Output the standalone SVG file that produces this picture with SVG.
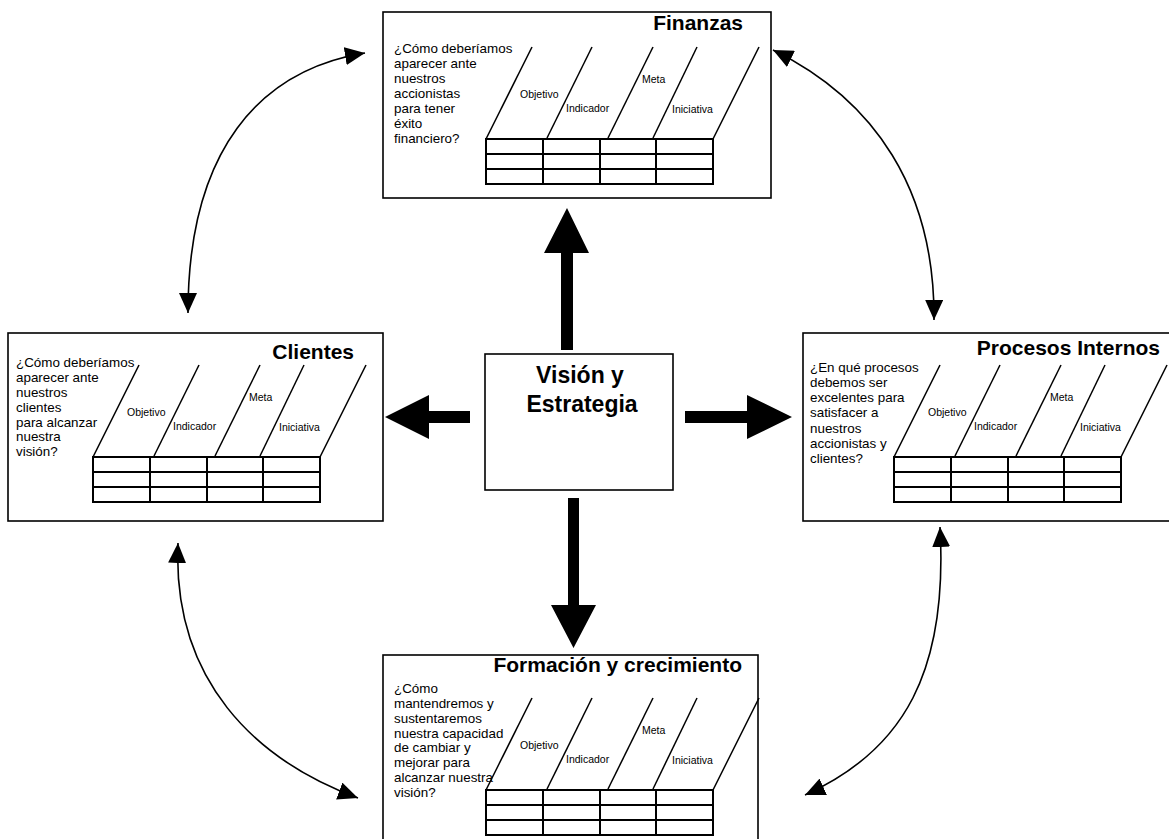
<svg xmlns="http://www.w3.org/2000/svg" xmlns:xlink="http://www.w3.org/1999/xlink" width="1169" height="839" viewBox="0 0 1169 839">
  <style>
    .box { fill: #ffffff; stroke: #000000; stroke-width: 1.6; }
    .title { font-family: "Liberation Sans", Arial, sans-serif; font-weight: bold; font-size: 21px; fill: #000; }
    .q { font-family: "Liberation Sans", Arial, sans-serif; font-size: 13.4px; fill: #000; }
    .lbl { font-family: "Liberation Sans", Arial, sans-serif; font-size: 10.5px; fill: #000; }
    .cell { fill: none; stroke: #000; stroke-width: 2; }
    .diag { stroke: #000; stroke-width: 1.5; fill: none; }
    .curve { fill: none; stroke: #000; stroke-width: 1.6; }
    .big { fill: #000; }
    .center { font-family: "Liberation Sans", Arial, sans-serif; font-weight: bold; font-size: 23px; fill: #000; text-anchor: middle; }
  </style>
  <defs>
    <marker id="head" viewBox="0 0 20 18" refX="20" refY="9" markerWidth="20" markerHeight="18" markerUnits="userSpaceOnUse" orient="auto-start-reverse">
      <path d="M0,0 L20,9 L0,18 Z" fill="#000"/>
    </marker>
    <!-- scorecard grid: origin is top-left of the table -->
    <g id="grid">
      <line class="diag" x1="0" y1="0" x2="46" y2="-92"/>
      <line class="diag" x1="61" y1="-1" x2="106" y2="-92"/>
      <line class="diag" x1="122" y1="-1" x2="167" y2="-92"/>
      <line class="diag" x1="167" y1="-1" x2="211" y2="-92"/>
      <line class="diag" x1="227" y1="0" x2="273" y2="-92"/>
      <text class="lbl" x="34" y="-41">Objetivo</text>
      <text class="lbl" x="80" y="-27">Indicador</text>
      <text class="lbl" x="156" y="-56">Meta</text>
      <text class="lbl" x="186" y="-26">Iniciativa</text>
      <rect class="cell" x="0" y="0" width="227" height="45"/>
      <line class="cell" x1="0" y1="15" x2="227" y2="15"/>
      <line class="cell" x1="0" y1="30" x2="227" y2="30"/>
      <line class="cell" x1="57" y1="0" x2="57" y2="45"/>
      <line class="cell" x1="114" y1="0" x2="114" y2="45"/>
      <line class="cell" x1="170" y1="0" x2="170" y2="45"/>
    </g>
  </defs>

  <rect width="1169" height="839" fill="#ffffff"/>

  <g id="finanzas">
    <rect class="box" x="383" y="12" width="388" height="186"/>
    <text class="title" x="743" y="30" text-anchor="end">Finanzas</text>
    <text class="q" x="394" y="53">
      <tspan x="394" y="53">¿Cómo deberíamos</tspan>
      <tspan x="394" y="68">aparecer ante</tspan>
      <tspan x="394" y="83">nuestros</tspan>
      <tspan x="394" y="98">accionistas</tspan>
      <tspan x="394" y="113">para tener</tspan>
      <tspan x="394" y="128">éxito</tspan>
      <tspan x="394" y="143">financiero?</tspan>
    </text>
    <use xlink:href="#grid" href="#grid" x="486" y="139"/>
  </g>

  <g id="clientes">
    <rect class="box" x="8" y="333" width="375" height="188"/>
    <text class="title" x="354" y="359" text-anchor="end">Clientes</text>
    <text class="q" x="16" y="367">
      <tspan x="16" y="367">¿Cómo deberíamos</tspan>
      <tspan x="16" y="382">aparecer ante</tspan>
      <tspan x="16" y="397">nuestros</tspan>
      <tspan x="16" y="412">clientes</tspan>
      <tspan x="16" y="427">para alcanzar</tspan>
      <tspan x="16" y="441">nuestra</tspan>
      <tspan x="16" y="456">visión?</tspan>
    </text>
    <use xlink:href="#grid" href="#grid" x="93" y="457"/>
  </g>

  <g id="procesos">
    <rect class="box" x="803" y="333" width="380" height="188"/>
    <text class="title" x="1160" y="355" text-anchor="end">Procesos Internos</text>
    <text class="q" x="810" y="372">
      <tspan x="810" y="372">¿En qué procesos</tspan>
      <tspan x="810" y="387">debemos ser</tspan>
      <tspan x="810" y="402">excelentes para</tspan>
      <tspan x="810" y="417">satisfacer a</tspan>
      <tspan x="810" y="433">nuestros</tspan>
      <tspan x="810" y="448">accionistas y</tspan>
      <tspan x="810" y="463">clientes?</tspan>
    </text>
    <use xlink:href="#grid" href="#grid" x="894" y="457"/>
  </g>

  <g id="formacion">
    <rect class="box" x="383" y="655" width="375" height="200"/>
    <text class="title" x="742" y="672" text-anchor="end">Formación y crecimiento</text>
    <text class="q" x="394" y="693">
      <tspan x="394" y="693">¿Cómo</tspan>
      <tspan x="394" y="708">mantendremos y</tspan>
      <tspan x="394" y="723">sustentaremos</tspan>
      <tspan x="394" y="738">nuestra capacidad</tspan>
      <tspan x="394" y="752">de cambiar y</tspan>
      <tspan x="394" y="767">mejorar para</tspan>
      <tspan x="394" y="782">alcanzar nuestra</tspan>
      <tspan x="394" y="797">visión?</tspan>
    </text>
    <use xlink:href="#grid" href="#grid" x="486" y="790"/>
  </g>

  <g id="vision">
    <rect class="box" x="485" y="354" width="188" height="136"/>
    <text class="center" x="580" y="383">Visión y</text>
    <text class="center" x="582" y="412">Estrategia</text>
  </g>

  <g id="connectors">
    <!-- block arrows out of the centre -->
    <polygon class="big" points="561,350 561,253 544,253 567,208 589,253 573,253 573,350"/>
    <polygon class="big" points="568,498 568,605 551,605 573.5,648 596,605 579,605 579,498"/>
    <polygon class="big" points="470,411 429,411 429,395 385,417 429,439 429,423 470,423"/>
    <polygon class="big" points="685,411 747,411 747,395 792,417 747,439 747,423 685,423"/>
    <!-- curved two-way links between perspectives -->
    <path class="curve" d="M188,313 C188,150 260,70 365,53" marker-start="url(#head)" marker-end="url(#head)"/>
    <path class="curve" d="M773,50 C875,100 935,190 934,320" marker-start="url(#head)" marker-end="url(#head)"/>
    <path class="curve" d="M178,543 C172,680 255,760 358,798" marker-start="url(#head)" marker-end="url(#head)"/>
    <path class="curve" d="M940,527 C948,670 905,750 805,795" marker-start="url(#head)" marker-end="url(#head)"/>
  </g>
</svg>
